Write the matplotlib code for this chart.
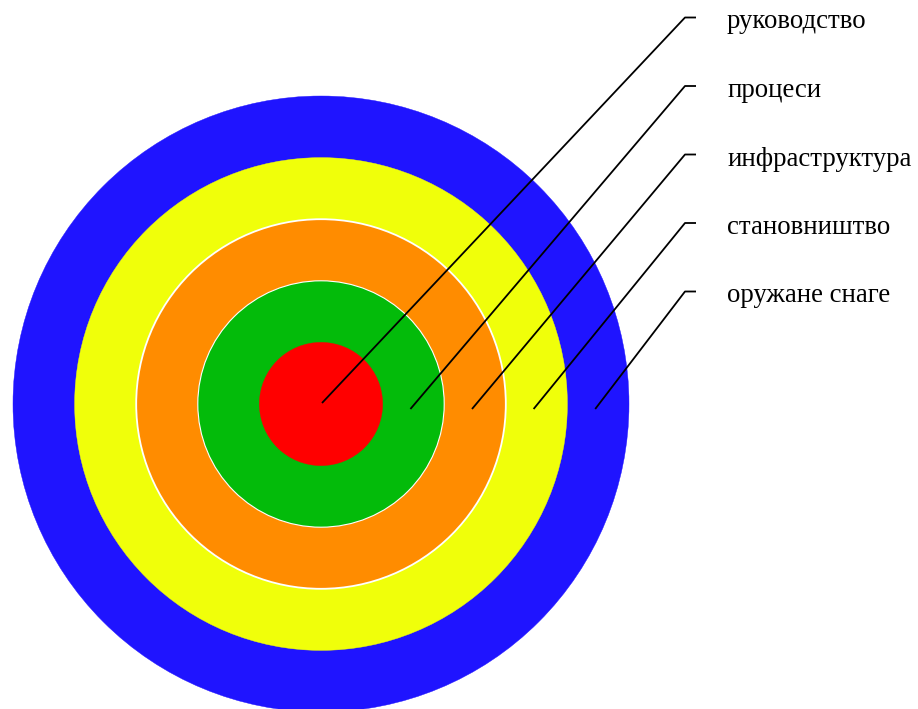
import matplotlib
matplotlib.use("Agg")
import matplotlib.pyplot as plt
from matplotlib.patches import Circle

# Data
categories = ["руководство", "процеси", "инфраструктура", "становништво", "оружане снаге"]
ring_levels = [1, 2, 3, 4, 5]  # red (inner) -> blue (outer)
ring_colors = ["#FF0000", "#03BB0A", "#FF8C00", "#F0FF0A", "#1F14FF"]
ring_edge_widths = [0.0, 0.8, 1.3, 0.0, 0.0]

W, H = 918, 709
fig = plt.figure(figsize=(W / 100, H / 100), dpi=100)
ax = fig.add_axes([0, 0, 1, 1])
ax.set_xlim(0, W)
ax.set_ylim(H, 0)
ax.axis("off")

cx, cy = 321, 404
step = 61.6

# draw rings from outermost to innermost
for lvl, col, ew in sorted(zip(ring_levels, ring_colors, ring_edge_widths), reverse=True):
    ax.add_patch(Circle((cx, cy), lvl * step, facecolor=col,
                        edgecolor="white" if ew > 0 else col,
                        linewidth=ew if ew > 0 else 0.3, zorder=1))

label_y0, label_dy = 17.5, 68.5
elbow_x, tick_x2, text_x = 685, 696, 727
for i, (cat, lvl) in enumerate(zip(categories, ring_levels)):
    if lvl == 1:
        ax0, ay0 = cx + 1, cy - 1
    else:
        ax0, ay0 = cx + (lvl - 0.5) * step - 3, cy + 5
    ty = label_y0 + i * label_dy
    ax.plot([ax0, elbow_x, tick_x2], [ay0, ty, ty], color="black",
            linewidth=1.3, solid_capstyle="butt", zorder=3)
    ax.text(text_x, ty + 4.5, cat, fontsize=19.3, family="Liberation Serif",
            va="center", ha="left", color="black")

fig.savefig("out.png", dpi=100)
